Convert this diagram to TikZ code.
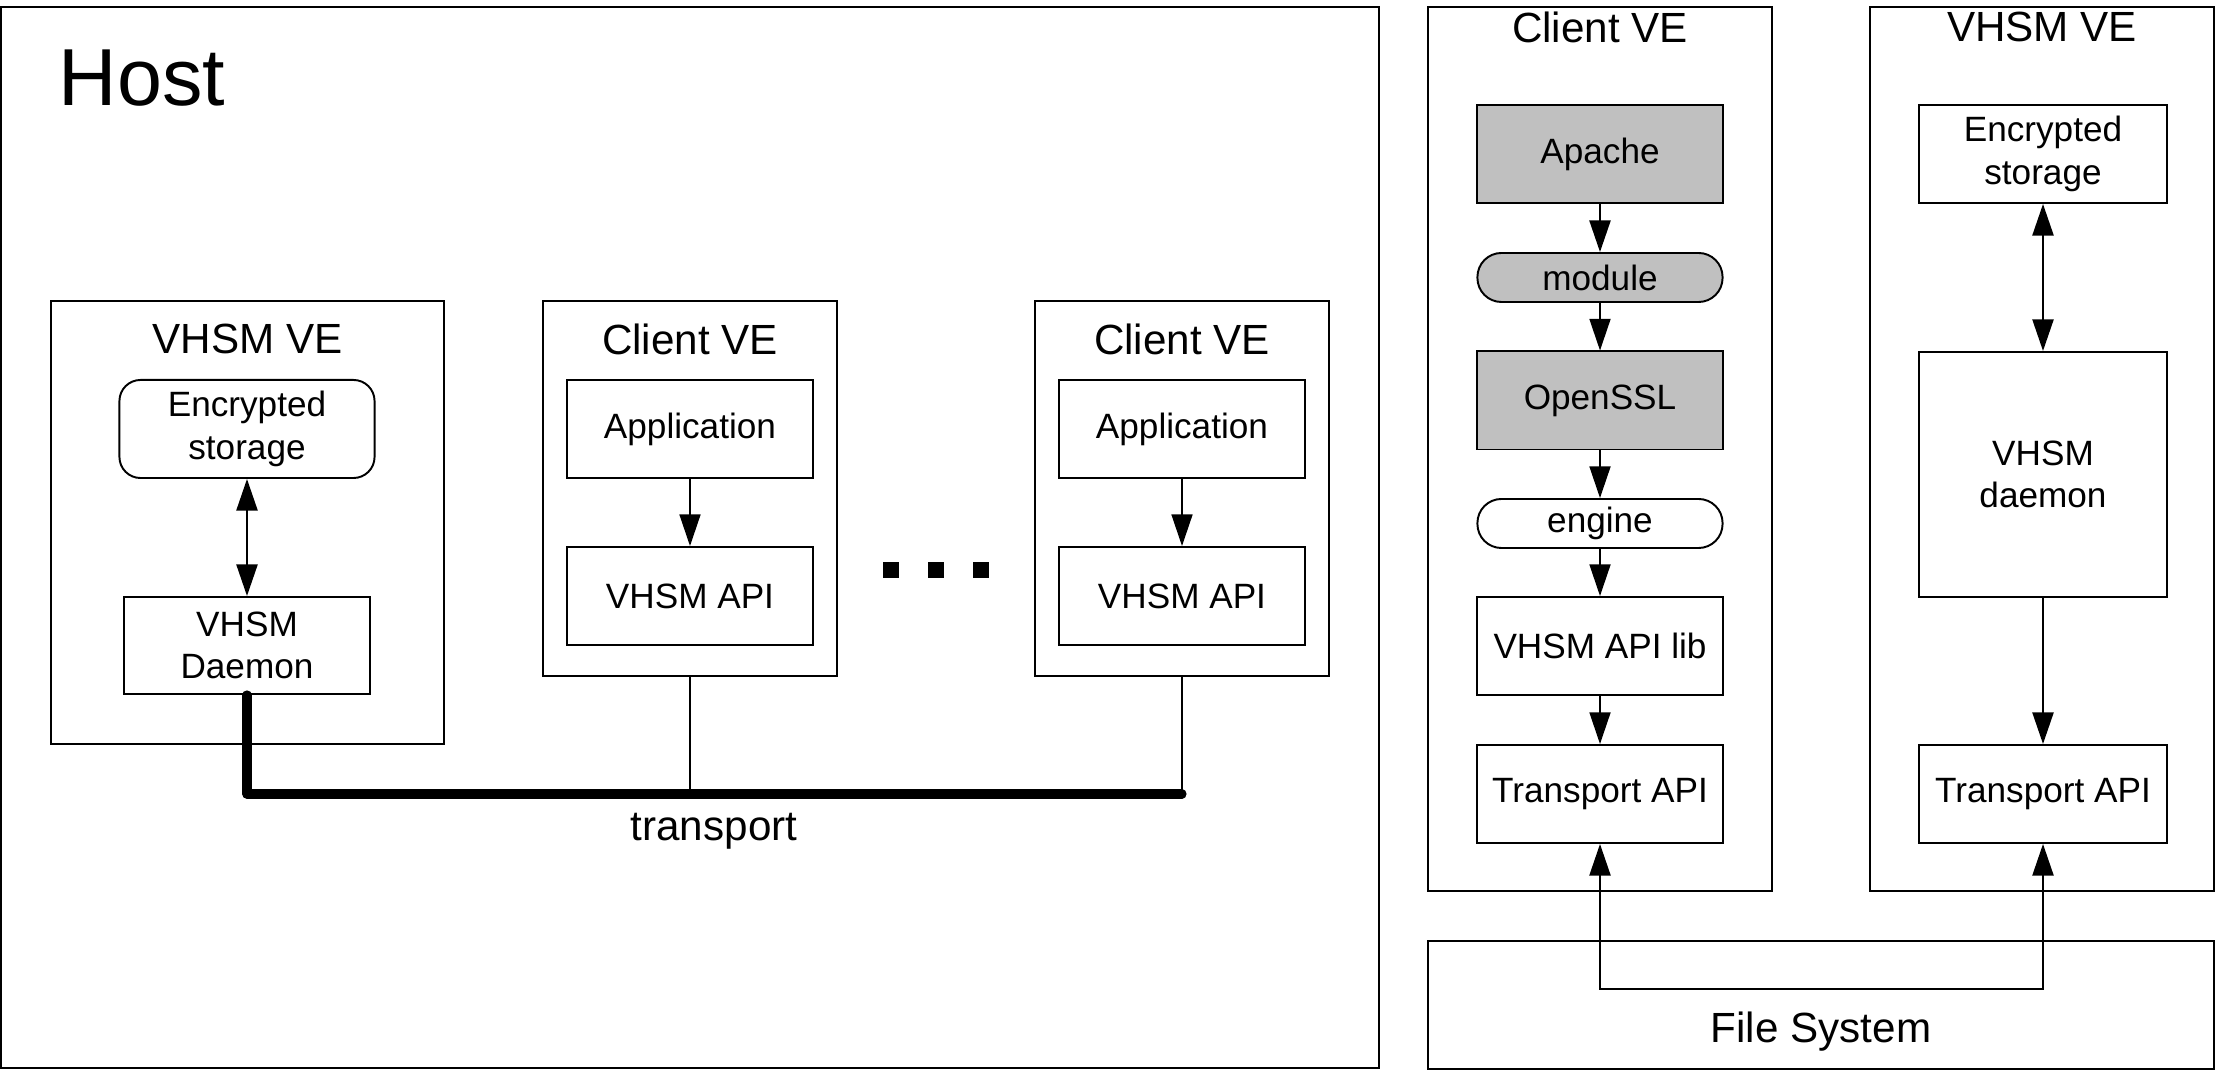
\documentclass[tikz,border=0pt]{standalone}
\usepackage{fontspec}
\setmainfont{Liberation Sans}
\usepackage{tikz}
\usetikzlibrary{arrows.meta}
\definecolor{boxgrey}{RGB}{192,192,192}

\begin{document}
\begin{tikzpicture}[x=0.01cm,y=-0.01cm,>={Triangle[length=9pt,width=6pt]},
    box/.style={draw,line width=0.55pt,inner sep=0pt,minimum width=2.46cm,minimum height=0.98cm,align=center,font=\fontsize{10}{12}\selectfont},
    pill/.style={box,minimum height=0.49cm,rounded corners=0.24cm},
    grey/.style={fill=boxgrey},
    frame/.style={draw,line width=0.55pt,inner sep=0pt},
    title/.style={font=\fontsize{12}{14}\selectfont,inner sep=0pt},
    link/.style={line width=0.4pt},
    bold link/.style={line width=0.6pt},
    bus/.style={line width=2.6pt,line cap=round,line join=round}]
  \useasboundingbox (0,0) rectangle (2217,1071);
  % host side
  \node[frame,minimum width=13.78cm,minimum height=10.61cm] (host) at (690,537.5) {};
  \node[font=\fontsize{23}{28}\selectfont,inner sep=0pt,anchor=base west] (hostname) at (58,106) {Host};
  \node[frame,minimum width=3.93cm,minimum height=4.43cm] (lvhsm) at (247.5,522.5) {};
  \node[title] (lvhsmname) at (247.5,339) {VHSM VE};
  \node[box,minimum width=2.55cm,rounded corners=6pt] (lstore) at (247,429) {Encrypted\\storage};
  \node[box,minimum height=0.97cm] (ldaemon) at (247,645.5) {VHSM\\Daemon};
  \node[frame,minimum width=2.94cm,minimum height=3.75cm] (client1) at (690,488.5) {};
  \node[title] (client1name) at (690,339) {Client VE};
  \node[box] (app1) at (690,429) {Application};
  \node[box] (api1) at (690,596) {VHSM API};
  \node[fill,minimum size=0.16cm,inner sep=0pt] (dot1) at (891,570) {};
  \node[fill,minimum size=0.16cm,inner sep=0pt] (dot2) at (936,570) {};
  \node[fill,minimum size=0.16cm,inner sep=0pt] (dot3) at (981,570) {};
  \node[frame,minimum width=2.94cm,minimum height=3.75cm] (client2) at (1182,488.5) {};
  \node[title] (client2name) at (1182,339) {Client VE};
  \node[box] (app2) at (1182,429) {Application};
  \node[box] (api2) at (1182,596) {VHSM API};
  \path[<->,bold link] (lstore) edge (ldaemon);
  \path[->,link] (app1) edge (api1);
  \path[->,link] (app2) edge (api2);
  \coordinate (buscorner) at (247,794);
  \coordinate (busend) at (1182,794);
  \draw[link] (client1.south) -- (client1.south |- buscorner);
  \draw[link] (client2.south) -- (busend);
  \draw[bus] (ldaemon.south) -- (buscorner) -- (busend);
  \node[title,anchor=base] (transportname) at (714,841) {transport};
  % client VE
  \node[frame,minimum width=3.44cm,minimum height=8.84cm] (client3) at (1600,449) {};
  \node[title] (client3name) at (1600,27) {Client VE};
  \node[box,grey,minimum width=2.45cm] (apache) at (1600,154) {Apache};
  \node[pill,grey,minimum width=2.45cm] (module) at (1600,277.5) {module};
  \node[box,grey,minimum width=2.45cm] (openssl) at (1600,400.5) {OpenSSL};
  \node[pill,minimum width=2.45cm] (engine) at (1600,523.5) {engine};
  \node[box,minimum width=2.45cm] (apilib) at (1600,646) {VHSM API lib};
  \node[box,minimum width=2.45cm] (ctrans) at (1600,794) {Transport API};
  \path[->,bold link] (apache) edge (module);
  \path[->,link] (module) edge (openssl);
  \path[->,link] (openssl) edge (engine);
  \path[->,link] (engine) edge (apilib);
  \path[->,link] (apilib) edge (ctrans);
  % VHSM VE
  \node[frame,minimum width=3.44cm,minimum height=8.84cm] (vhsm) at (2042,449) {};
  \node[title] (vhsmname) at (2042,27) {VHSM VE};
  \node[box,minimum width=2.48cm] (rstore) at (2043,154) {Encrypted\\storage};
  \node[box,minimum width=2.47cm,minimum height=2.45cm] (rdaemon) at (2043,474.5) {VHSM\\daemon};
  \node[box,minimum width=2.47cm] (vtrans) at (2043,794) {Transport API};
  \path[<->,bold link] (rstore) edge (rdaemon);
  \path[->,bold link] (rdaemon) edge (vtrans);
  % file system
  \node[frame,minimum width=7.86cm,minimum height=1.28cm] (filesys) at (1821,1005) {};
  \node[title,anchor=base] (filesysname) at (1821,1043) {File System};
  \coordinate (fsleft) at (1600,989);
  \coordinate (fsright) at (2043,989);
  \draw[<->,line width=0.55pt] (ctrans) -- (fsleft) -- (fsright) -- (vtrans);
\end{tikzpicture}
\end{document}
